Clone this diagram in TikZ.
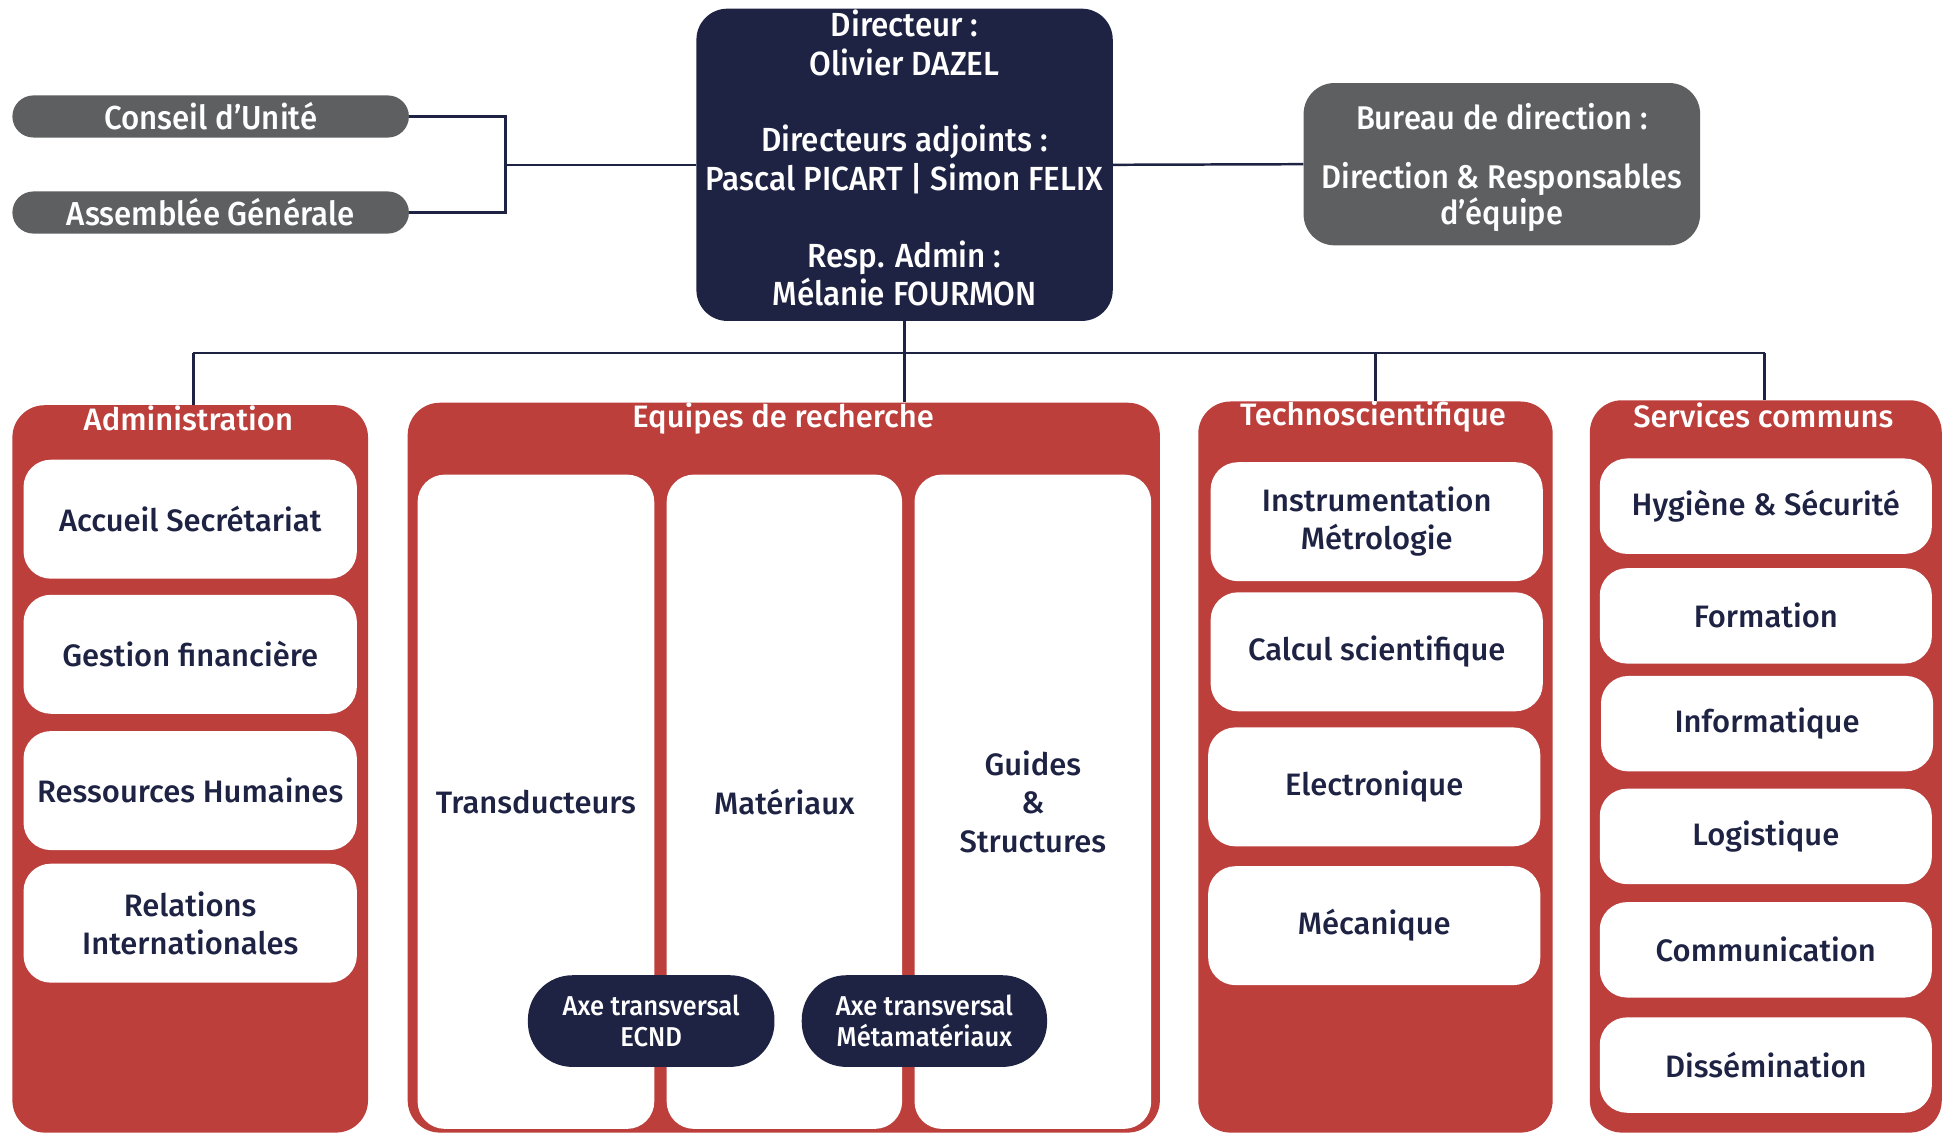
\documentclass[tikz,border=0pt]{standalone}
\usepackage{fontspec}
\setmainfont{Fira Sans}[UprightFont=* Medium, BoldFont=* SemiBold]
\newfontfamily\condfont{Fira Sans}[UprightFont=* Medium, FakeStretch=0.94]
\definecolor{navy}{HTML}{1E2344}
\definecolor{redc}{HTML}{BC3F3B}
\definecolor{grayc}{HTML}{5E5F61}
\tikzset{
  conn/.style={draw=navy, line width=2pt},
  wbox/.style={fill=white, rounded corners=22pt, inner sep=0pt, align=center, text=navy, font=\fontsize{25}{31}\selectfont},
  redbox/.style={fill=redc, rounded corners=26pt, inner sep=0pt},
  ttl/.style={text=white, inner sep=0pt, font=\fontsize{25}{27}\selectfont},
  graypill/.style={fill=grayc, rounded corners=17pt, inner sep=0pt, text=white, font=\condfont\fontsize{26.8}{30}\selectfont},
  axe/.style={fill=navy, rounded corners=36pt, inner sep=0pt, text=white, align=center, font=\condfont\fontsize{22}{25}\selectfont},
  topbox/.style={fill=#1, rounded corners=25pt, inner sep=0pt},
  toptext/.style={text=white, align=center, inner sep=0pt, font=\condfont\fontsize{27}{31}\selectfont}
}
\begin{document}
\begin{tikzpicture}[x=1pt,y=-1pt]
\useasboundingbox (0,0) rectangle (1568,915);

% top level
\node[graypill, minimum width=320pt, minimum height=34pt] (conseil) at (170,94) {Conseil d’Unité};
\node[graypill, minimum width=320pt, minimum height=34pt] (assemblee) at (170,171.5) {Assemblée Générale};
\node[topbox=navy, minimum width=336pt, minimum height=252pt] (director) at (730,133) {};
\node[toptext] (dirtext) at (730,127.5) {Directeur :\\Olivier DAZEL\\[31pt]Directeurs adjoints :\\Pascal PICART | Simon FELIX\\[31pt]Resp. Admin :\\Mélanie FOURMON};
\node[topbox=grayc, minimum width=320pt, minimum height=131pt] (bureau) at (1212,132.5) {};
\node[toptext, font=\condfont\fontsize{26.5}{24}\selectfont] (burtext) at (1212,135) {Bureau de direction :\\[24pt]Direction \& Responsables\\d’équipe};

% containers
\node[redbox, minimum width=287pt, minimum height=587pt] (admin) at (153.5,620.5) {};
\node[redbox, minimum width=607pt, minimum height=589pt] (equipes) at (632.5,619.5) {};
\node[redbox, minimum width=286pt, minimum height=590pt] (techno) at (1110,619) {};
\node[redbox, minimum width=284pt, minimum height=591pt] (services) at (1425,618.5) {};
\node[ttl] (admint) at (152,338) {Administration};
\node[ttl] (equipest) at (632,337.5) {Equipes de recherche};
\node[ttl] (technot) at (1108,336) {Technoscientifique};
\node[ttl] (servicest) at (1423,335) {Services communs};

% connectors
\coordinate (brk) at (408,133);
\coordinate (busL) at (156,285);
\coordinate (busR) at (1424,285);
\draw[conn] (conseil.east) -| (brk);
\draw[conn] (assemblee.east) -| (brk);
\draw[conn] (brk) -- (director.west);
\draw[conn] (director.east) -- (bureau.west);
\draw[conn] (director.south) -- (director.south |- equipes.north);
\draw[conn] (busL) -- (busR);
\draw[conn] (busL) -- (busL |- admin.north);
\draw[conn] (techno.north |- busL) -- (techno.north);
\draw[conn] (busR) -- (busR |- services.north);

% administration
\node[wbox, minimum width=269pt, minimum height=96pt] (accueil) at (153.5,419) {Accueil Secrétariat};
\node[wbox, minimum width=269pt, minimum height=96pt] (gestion) at (153.5,528) {Gestion financière};
\node[wbox, minimum width=269pt, minimum height=96pt] (rh) at (153.5,638) {Ressources Humaines};
\node[wbox, minimum width=269pt, minimum height=96pt] (ri) at (153.5,745) {Relations\\Internationales};

% equipes
\node[wbox, minimum width=191pt, minimum height=528pt] (trans) at (432.5,647) {Transducteurs};
\node[wbox, minimum width=190pt, minimum height=528pt] (mat) at (633,647) {Matériaux};
\node[wbox, minimum width=191pt, minimum height=528pt] (guides) at (833.5,647) {Guides\\\&\\Structures};
\node[axe, minimum width=199pt, minimum height=74pt] (ecnd) at (525.5,824) {Axe transversal\\ECND};
\node[axe, minimum width=198pt, minimum height=74pt] (meta) at (746,824) {Axe transversal\\Métamatériaux};

% techno
\node[wbox, minimum width=268pt, minimum height=96pt] (instr) at (1111,421) {Instrumentation\\Métrologie};
\node[wbox, minimum width=268pt, minimum height=96pt] (calcul) at (1111,526) {Calcul scientifique};
\node[wbox, minimum width=268pt, minimum height=96pt] (elec) at (1109,635) {Electronique};
\node[wbox, minimum width=268pt, minimum height=96pt] (meca) at (1109,747) {Mécanique};

% services
\node[wbox, minimum width=268pt, minimum height=77pt] (hyg) at (1425,408.5) {Hygiène \& Sécurité};
\node[wbox, minimum width=268pt, minimum height=77pt] (form) at (1425,497) {Formation};
\node[wbox, minimum width=268pt, minimum height=77pt] (info) at (1426,584) {Informatique};
\node[wbox, minimum width=268pt, minimum height=77pt] (logi) at (1425,675) {Logistique};
\node[wbox, minimum width=268pt, minimum height=77pt] (comm) at (1425,766.5) {Communication};
\node[wbox, minimum width=268pt, minimum height=77pt] (diss) at (1425,859.5) {Dissémination};
\end{tikzpicture}
\end{document}
